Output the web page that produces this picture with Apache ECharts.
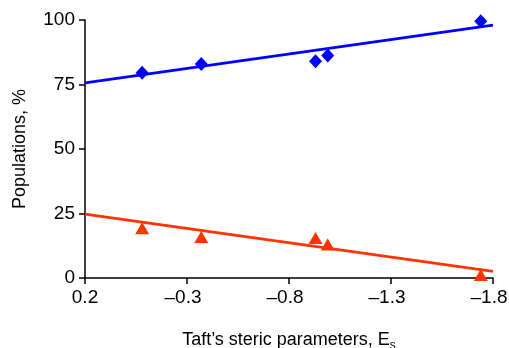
<!DOCTYPE html>
<html>
<head>
<meta charset="utf-8">
<script src="https://cdn.jsdelivr.net/npm/echarts@6/dist/echarts.min.js"></script>
<style>
  html, body { margin: 0; padding: 0; background: #fff; }
  #myChart { width: 509px; height: 348px; }
</style>
</head>
<body>
<div id="myChart"></div>
<script>
  // Taft steric parameter Es for each substituent
  const esValues = [-0.08, -0.37, -0.93, -0.99, -1.74];
  const upperPop = [79.6, 82.9, 84, 86.2, 99.5];   // blue diamonds
  const lowerPop = [19.3, 15.9, 15.5, 13, 1.2];    // red triangles
  // fitted lines, read at the two ends of the axis
  const fitEs = [0.2, -1.8];
  const upperFit = [75.6, 98];
  const lowerFit = [24.8, 2.6];
  const xTicks = [0.2, -0.3, -0.8, -1.3, -1.8];
  const yTicks = [0, 25, 50, 75, 100];

  // axis runs from 0.2 (left) to -1.8 (right); plot against (0.2 - Es)
  // so ticks start at a multiple of the interval
  const xOrigin = xTicks[0];
  const toPos = es => +(xOrigin - es).toFixed(4);
  const pairs = (xs, ys) => xs.map((x, i) => [toPos(x), ys[i]]);

  const font = 'Liberation Sans, Arial, Helvetica, sans-serif';
  const chart = echarts.init(document.getElementById('myChart'));
  const option = {
    animation: false,
    grid: { left: 85, right: 16, top: 20, bottom: 70, containLabel: false, outerBoundsMode: 'none' },
    xAxis: {
      type: 'value',
      min: 0,
      max: toPos(xTicks[xTicks.length - 1]),
      interval: 0.5,
      splitLine: { show: false },
      axisLine: { show: true, lineStyle: { color: '#000', width: 1.5 } },
      axisTick: { show: true, length: 6, lineStyle: { color: '#000', width: 1.5 } },
      axisLabel: {
        color: '#000', fontSize: 19, fontFamily: font, margin: 10,
        formatter: v => {
          const es = +(xOrigin - v).toFixed(1);
          return es < 0 ? '{neg|\u2013' + Math.abs(es).toFixed(1) + '}' : es.toFixed(1);
        },
        rich: { neg: { color: '#000', fontSize: 19, fontFamily: font, padding: [0, 8, 0, 0] } }
      },
      name: 'Taft\u2019s steric parameters, E{sub|s}',
      nameLocation: 'middle',
      nameGap: 50,
      nameTextStyle: {
        color: '#000', fontSize: 18, fontFamily: font, verticalAlign: 'top',
        rich: { sub: { fontSize: 12, fontFamily: font, color: '#000', padding: [12, 0, 0, 0] } }
      }
    },
    yAxis: {
      type: 'value',
      min: yTicks[0],
      max: yTicks[yTicks.length - 1],
      interval: 25,
      splitLine: { show: false },
      axisLine: { show: true, lineStyle: { color: '#000', width: 1.5 } },
      axisTick: { show: true, length: 6, lineStyle: { color: '#000', width: 1.5 } },
      axisLabel: { color: '#000', fontSize: 19, fontFamily: font, margin: 10 },
      name: 'Populations, %',
      nameLocation: 'middle',
      nameGap: 56,
      nameTextStyle: { color: '#000', fontSize: 18, fontFamily: font }
    },
    series: [
      {
        type: 'line', data: pairs(fitEs, upperFit), symbol: 'none', silent: true,
        lineStyle: { color: '#0000ff', width: 2.8 }
      },
      {
        type: 'line', data: pairs(fitEs, lowerFit), symbol: 'none', silent: true,
        lineStyle: { color: '#ff3300', width: 2.8 }
      },
      {
        type: 'scatter', data: pairs(esValues, upperPop),
        symbol: 'diamond', symbolSize: [13, 14],
        itemStyle: { color: '#0000ff', opacity: 1 }
      },
      {
        type: 'scatter', data: pairs(esValues, lowerPop),
        symbol: 'triangle', symbolSize: [14, 12],
        itemStyle: { color: '#ff3300', opacity: 1 }
      }
    ]
  };
  chart.setOption(option);
</script>
</body>
</html>
